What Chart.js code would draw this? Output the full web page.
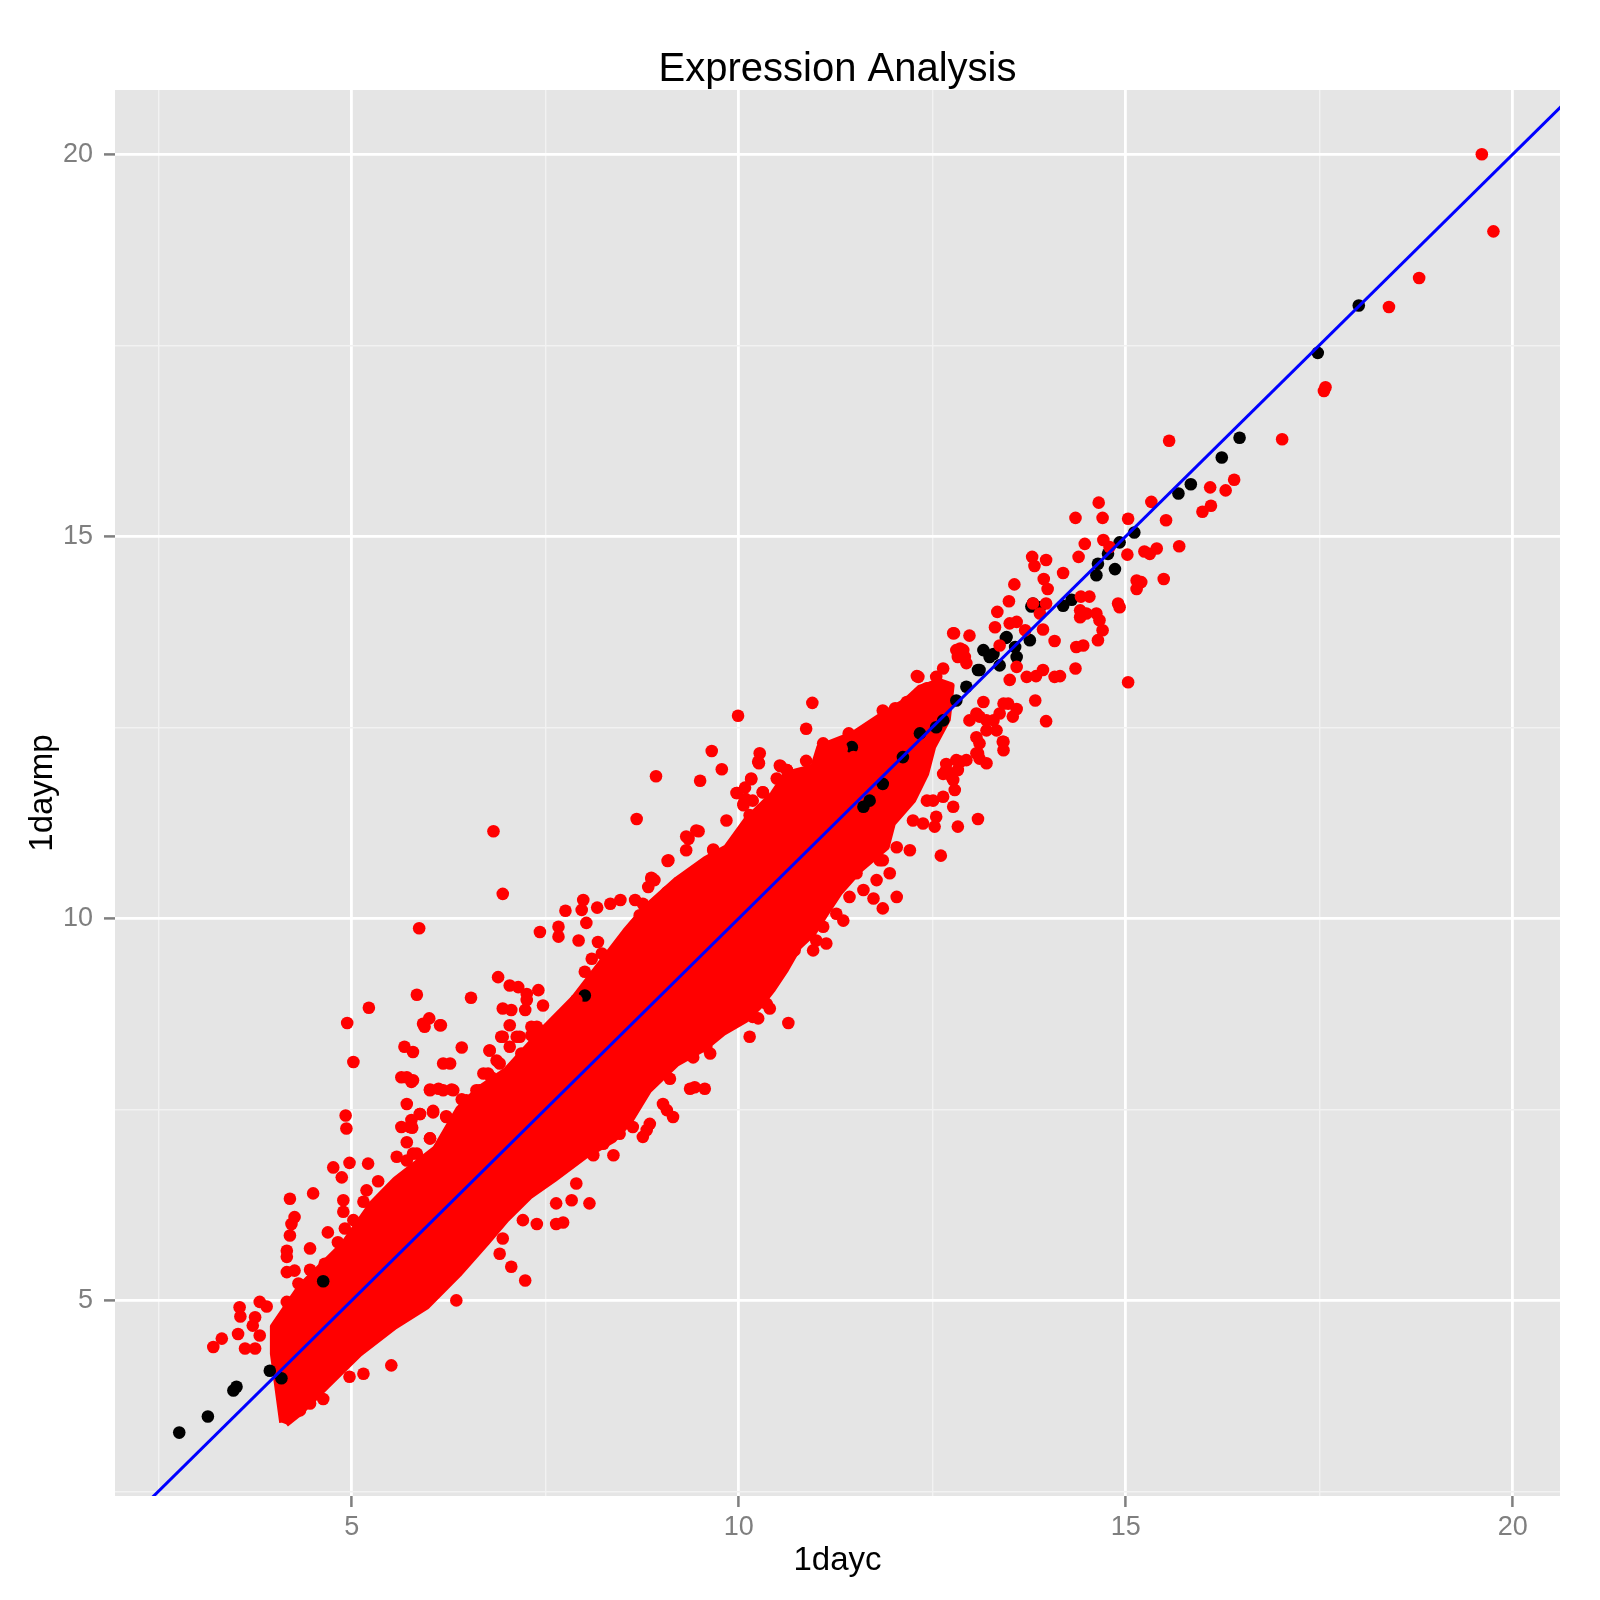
<!DOCTYPE html>
<html>
<head>
<meta charset="utf-8">
<title>Expression Analysis</title>
<script src="https://cdn.jsdelivr.net/npm/chart.js@4.4.1/dist/chart.umd.min.js"></script>
<style>
  body { margin: 0; background: #fff; }
  #myChart { display: block; }
</style>
</head>
<body>
<canvas id="myChart" width="1600" height="1600"></canvas>
<script>
const title = 'Expression Analysis';
const xLabel = '1dayc';
const yLabel = '1daymp';
const xRange = [1.94, 20.61];
const yRange = [2.44, 20.84];
const tickStep = 2.5;

// genes that differ (red)
const redPts = [
  [19.60,20.00],[19.75,18.99],[18.79,18.38],[18.40,18.00],[17.58,16.95],[17.56,16.90],[17.02,16.27],[15.56,16.25],
  [16.40,15.74],[16.29,15.60],[16.09,15.64],[16.10,15.40],[15.99,15.32],[15.52,15.21],[15.33,15.45],
  [14.65,15.44],[14.35,15.24],[14.70,15.24],[15.03,15.23],[14.71,14.95],[14.79,14.86],[14.47,14.90],[14.39,14.73],
  [15.02,14.76],[15.24,14.80],[15.40,14.84],[15.31,14.77],[15.69,14.87],[15.14,14.42],[15.20,14.40],[15.14,14.31],
  [15.49,14.44],[14.90,14.12],[14.92,14.07],[13.79,14.73],[13.82,14.61],[13.97,14.69],[14.19,14.52],[13.94,14.44],
  [13.99,14.31],[13.56,14.37],[13.49,14.15],[13.34,14.01],[13.31,13.81],[13.80,14.12],[13.97,14.12],[13.89,13.99],
  [14.42,14.21],[14.53,14.21],[14.41,14.03],[14.49,13.99],[14.62,13.99],[14.66,13.90],[14.70,13.77],[14.64,13.64],
  [14.36,13.55],[14.45,13.57],[14.41,13.94],[13.59,13.88],[13.50,13.86],[13.70,13.77],[13.93,13.78],[14.08,13.63],
  [12.77,13.73],[12.98,13.70],[12.90,13.51],[12.83,13.42],[13.37,13.57],[13.59,13.29],[13.50,13.12],[13.72,13.16],
  [13.84,13.17],[13.93,13.25],[14.08,13.16],[14.15,13.17],[14.35,13.27],[15.03,13.09],[13.83,12.85],[13.97,12.58],
  [13.42,12.81],[13.48,12.81],[13.59,12.74],[13.37,12.68],[13.54,12.64],[13.16,12.83],[13.11,12.64],[13.29,12.59],
  [13.20,12.46],[13.07,12.37],[13.42,12.31],[13.42,12.20],[13.20,12.03],[13.07,12.16],[13.11,12.09],[12.86,12.05],
  [12.68,11.94],[12.77,11.81],[12.83,11.94],[12.32,13.16],[12.55,13.16],[12.51,13.03],[12.86,13.53],[12.94,13.34],
  [9.99,12.65],[10.95,12.82],[10.87,12.48],[8.93,11.86],[9.65,12.19],[9.78,11.95],[9.50,11.80],[10.27,12.16],
  [10.25,12.05],[10.16,11.82],[9.98,11.64],[10.09,11.56],[10.31,11.65],[10.06,11.48],[10.14,11.35],[10.54,11.99],
  [10.62,11.94],[10.49,11.83],[10.87,12.06],[10.75,11.68],[11.09,12.29],[11.33,12.22],[11.42,12.42],[11.63,12.44],
  [11.48,12.11],[12.02,12.75],[11.86,12.72],[12.17,12.83],[12.30,13.17],[12.43,13.01],[12.64,13.27],[12.78,13.73],
  [12.81,13.51],[12.92,13.42],
  [13.09,11.30],[12.83,11.20],[12.53,11.20],[12.61,10.82],[12.55,11.33],[12.38,11.24],[12.25,11.28],[12.43,11.54],
  [12.51,11.54],[12.64,11.59],[12.77,11.46],[12.79,11.68],[12.75,11.85],[12.64,11.89],[12.68,12.02],[12.81,12.07],
  [12.94,12.07],[13.09,12.16],[13.11,12.29],[13.41,12.31],[13.33,12.46],[13.20,12.59],[12.98,12.59],[13.07,12.68],
  [12.04,10.93],[12.21,10.89],[11.86,10.76],[11.95,10.59],[11.69,10.85],[11.78,10.50],[11.52,10.59],[11.61,10.37],
  [11.43,10.28],[11.74,10.26],[11.86,10.13],[12.04,10.28],[11.35,9.97],[11.26,10.06],[11.09,9.89],[11.00,9.71],
  [10.96,9.58],[11.13,9.67],[11.82,10.76],
  [9.32,11.07],[9.45,11.15],[9.09,10.76],[8.91,10.50],[9.67,10.89],[9.84,11.28],[10.06,11.11],
  [6.83,11.14],[6.95,10.32],[5.87,9.87],[5.84,9.00],[6.54,8.96],[6.00,8.69],[5.94,8.58],[6.15,8.60],
  [5.71,7.92],[5.79,7.88],[6.01,7.75],[6.18,7.75],[6.31,7.75],[5.88,7.44],[6.05,7.46],[6.22,7.40],
  [5.75,7.27],[6.01,7.12],[5.79,6.92],[6.89,9.23],[7.04,9.12],[7.15,9.10],[7.26,9.01],[7.26,8.93],
  [7.41,9.06],[7.47,8.86],[6.95,8.82],[7.06,8.80],[7.24,8.80],[7.04,8.60],[6.93,8.45],[7.13,8.45],
  [6.78,8.27],[6.87,8.14],[6.76,7.97],[7.39,8.58],[7.32,8.47],[7.43,8.53],[6.61,7.75],[6.48,7.62],
  [7.43,9.82],[7.67,9.89],[7.67,9.76],[7.93,9.71],[7.76,10.10],[7.97,10.11],[7.99,10.24],[8.03,9.94],
  [8.17,10.14],[8.18,9.69],[8.10,9.47],[8.23,9.54],[8.01,9.30],[7.90,8.93],[8.47,10.24],[8.66,10.24],
  [8.76,10.19],[8.87,10.52],[8.83,10.41],[9.07,10.34],[9.01,10.15],[8.72,10.04],[8.68,11.30],[10.26,12.03],
  [10.53,12.00],[10.62,11.94],[9.97,11.64],[10.08,11.71],[10.16,11.83],[10.31,11.65],[10.06,11.50],[10.18,11.54],
  [10.40,11.50],[9.48,11.14],[9.35,11.04],[9.32,10.89],[9.67,10.90],[9.08,10.75],[8.87,10.53],[9.35,10.55],
  [9.50,10.41],[8.34,10.19],[5.22,8.83],
  [10.64,8.63],[10.14,8.45],[10.18,8.71],[10.25,8.69],[10.36,8.88],[10.40,8.82],[9.37,7.77],[9.56,7.77],
  [9.43,7.79],[9.11,7.90],[9.02,7.57],[9.07,7.49],[9.15,7.40],[8.85,7.31],[8.76,7.14],[8.81,7.23],
  [9.58,8.32],[9.63,8.23],[9.41,8.18],[9.56,8.45],[10.01,8.93],[9.93,8.84],[9.82,8.58],[10.10,9.06],
  [10.49,9.36],[10.40,9.23],[10.72,9.58],[8.12,6.90],[8.38,6.90],[8.25,7.05],[8.46,7.18],[8.63,7.27],
  [4.94,8.63],[5.02,8.12],[4.92,7.42],[4.93,7.25],[4.97,6.80],[4.76,6.74],[4.87,6.61],[5.21,6.79],
  [5.34,6.56],[5.19,6.44],[5.15,6.29],[4.89,6.31],[4.50,6.40],[4.20,6.33],[4.26,6.09],[4.22,6.00],
  [4.20,5.85],[4.16,5.65],[4.16,5.57],[4.46,5.68],[4.69,5.89],[4.82,5.76],[4.91,5.94],[5.02,6.05],
  [4.89,6.16],[4.65,5.48],[4.46,5.40],[4.16,5.37],[4.26,5.39],[4.31,5.22],[4.80,5.39],[3.55,4.91],
  [3.81,4.98],[3.90,4.92],[4.16,4.98],[3.75,4.78],[3.72,4.67],[3.81,4.54],[3.53,4.56],[3.32,4.50],
  [3.21,4.39],[3.62,4.37],[3.75,4.37],[5.51,4.15],[4.63,3.71],[6.35,5.00],[7.24,5.26],[7.06,5.44],
  [6.91,5.61],[6.95,5.81],[7.21,6.05],[7.39,6.00],[7.64,6.00],[7.73,6.02],[7.64,6.27],[7.84,6.31],
  [7.90,6.53],[8.07,6.27],[5.68,8.32],[5.79,8.25],[6.42,8.31],[6.78,8.27],[6.18,8.10],[6.27,8.10],
  [5.64,7.92],[5.77,7.86],[6.01,7.76],[6.12,7.77],[6.29,7.76],[5.71,7.57],[6.05,7.48],[6.22,7.41],
  [5.88,7.44],[5.77,7.36],[5.64,7.27],[5.78,7.26],[5.71,7.07],[6.01,7.12],[5.84,6.92],[5.58,6.88],
  [5.71,6.83],[5.99,6.83],[5.92,8.62],[6.14,8.60],[6.42,7.63],[6.65,7.75],[6.80,7.92],[6.70,7.97],
  [6.91,8.10],[6.95,8.45],[7.17,8.45],[7.32,8.58],[7.04,8.32],[7.19,8.23],[5.15,4.04],[4.97,4.00],
  [4.46,3.65],[4.20,3.52],[4.33,3.56],[3.56,4.79]
];

// genes that do not differ (black), the ones that show through the red
const blackPts = [
  [2.77,3.27],[3.14,3.48],[3.47,3.82],[3.51,3.87],[3.94,4.08],[4.09,3.98],[4.63,5.25],[8.01,8.99],
  [11.46,12.24],[11.69,11.54],[11.61,11.46],[11.86,11.76],
  [12.12,12.11],[12.34,12.42],[12.55,12.50],[12.64,12.59],[12.81,12.85],[12.94,13.03],[13.09,13.25],
  [13.16,13.51],[13.29,13.46],[13.46,13.68],[13.59,13.42],[13.76,13.64],[13.80,14.12],[13.89,14.07],
  [14.19,14.09],[14.30,14.17],[13.78,14.08],[13.45,13.67],[13.57,13.55],[13.24,13.42],[13.11,13.25],
  [13.37,13.31],[14.77,14.77],[14.64,14.64],[14.62,14.49],[14.86,14.57],[14.92,14.92],[15.11,15.05],
  [15.68,15.56],[15.84,15.68],[16.24,16.03],[16.47,16.29],[17.48,17.40],[18.01,18.02]
];

// outline of the solid red cloud, too dense to read point by point
const bandOutline = [
  [4.10,3.40],[3.98,4.30],[3.98,4.66],[4.33,5.18],[4.90,5.75],[5.26,6.27],[5.56,6.58],[6.08,6.99],
  [6.38,7.51],[6.64,7.77],[7.00,8.02],[7.51,8.59],[7.87,8.96],[8.18,9.37],[8.53,9.83],[8.79,10.14],
  [9.20,10.51],[9.56,10.77],[9.84,10.93],[10.09,11.28],[10.44,11.63],[10.61,11.89],[10.96,11.98],
  [11.04,12.24],[11.47,12.41],[11.86,12.67],[12.16,12.85],[12.34,13.02],[12.60,13.10],[12.75,13.05],
  [12.70,12.60],[12.51,12.24],[12.42,11.89],[12.25,11.54],[11.99,11.24],[11.91,10.93],[11.56,10.63],
  [11.30,10.33],[11.13,10.07],[10.96,9.80],[10.78,9.63],[10.61,9.33],[10.44,9.07],[10.27,8.85],
  [10.09,8.67],[9.80,8.50],[9.56,8.30],[9.20,8.10],[8.84,7.75],[8.60,7.35],[8.38,7.10],[8.02,6.89],
  [7.61,6.58],[7.31,6.37],[7.00,6.06],[6.74,5.75],[6.38,5.34],[5.97,4.92],[5.56,4.66],[5.10,4.30],
  [4.69,3.89],[4.30,3.50],[4.15,3.38]
];

// y = x reference line
const refLine = [[1, 1], [22, 22]];

const toXY = (pts) => pts.map(([x, y]) => ({ x, y }));
const isMajor = (v) => Math.abs(v % 5) < 1e-9;

Chart.defaults.font.family = "'Liberation Sans', Arial, sans-serif";

const panelBackground = {
    id: 'panelBackground',
    beforeDraw(chart) {
        const { ctx, chartArea } = chart;
        ctx.save();
        ctx.fillStyle = '#E5E5E5';
        ctx.fillRect(chartArea.left, chartArea.top, chartArea.right - chartArea.left, chartArea.bottom - chartArea.top);
        ctx.restore();
    },
};

const axisOptions = (range, label, isX) => ({
    type: 'linear',
    min: range[0],
    max: range[1],
    border: { display: false },
    grid: {
        color: (c) => isMajor(c.tick.value) ? '#FFFFFF' : '#F2F2F2',
        lineWidth: (c) => isMajor(c.tick.value) ? 2.8 : 1.4,
        tickColor: (c) => isMajor(c.tick.value) ? '#7F7F7F' : 'rgba(0,0,0,0)',
        tickWidth: 2.5,
        tickLength: 11,
    },
    ticks: {
        stepSize: tickStep,
        includeBounds: false,
        autoSkip: false,
        maxRotation: 0,
        color: '#7F7F7F',
        font: { size: 27 },
        padding: isX ? 4 : 11,
        callback: (v) => isMajor(v) ? String(v) : '',
    },
    title: {
        display: true,
        text: label,
        color: '#000000',
        font: { size: 33 },
        padding: isX ? { top: 0, bottom: 19 } : { top: 23, bottom: 0 },
    },
    afterFit: (scale) => {
        if (isX) scale.height = 104;
        else scale.width = 115;
    },
});

const ctx = document.getElementById('myChart');

new Chart(ctx, {
    type: 'scatter',
    data: {
        datasets: [
            {
                type: 'line',
                data: toXY(refLine),
                borderColor: '#0000FF',
                borderWidth: 3,
                pointRadius: 0,
                fill: false,
                order: 0,
            },
            {
                data: toXY(redPts),
                backgroundColor: '#FF0000',
                borderWidth: 0,
                pointRadius: 6.3,
                order: 1,
            },
            {
                data: toXY(blackPts),
                backgroundColor: '#000000',
                borderWidth: 0,
                pointRadius: 6.3,
                order: 2,
            },
            {
                type: 'line',
                data: toXY(bandOutline),
                borderColor: '#FF0000',
                backgroundColor: '#FF0000',
                borderWidth: 6,
                borderJoinStyle: 'round',
                pointRadius: 0,
                tension: 0,
                fill: 'shape',
                order: 3,
            },
        ],
    },
    options: {
        responsive: false,
        animation: false,
        devicePixelRatio: 1,
        layout: { padding: { left: 0, right: 40, top: 0, bottom: 0 } },
        plugins: {
            legend: { display: false },
            tooltip: { enabled: false },
            title: {
                display: true,
                text: title,
                color: '#000000',
                fullSize: false,
                font: { size: 40, weight: 'normal', lineHeight: 1.0 },
                padding: { top: 50, bottom: 0 },
            },
        },
        scales: {
            x: axisOptions(xRange, xLabel, true),
            y: axisOptions(yRange, yLabel, false),
        },
    },
    plugins: [panelBackground],
});
</script>
</body>
</html>
